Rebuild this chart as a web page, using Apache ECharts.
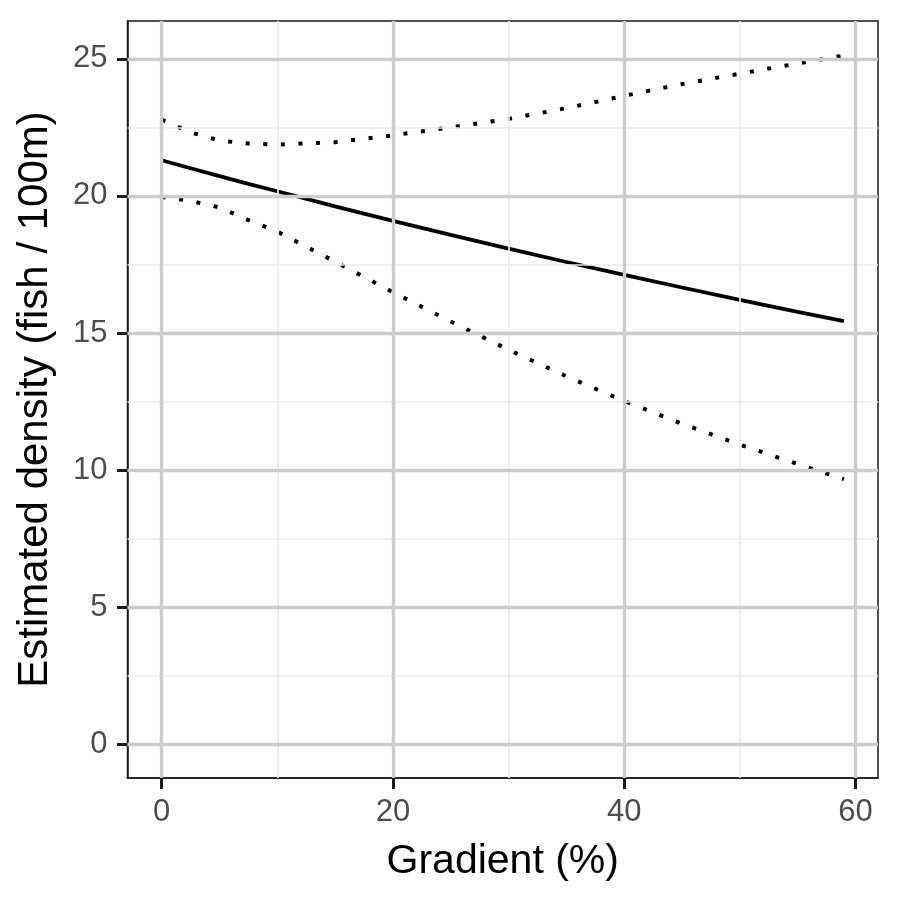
<!DOCTYPE html>
<html>
<head>
<meta charset="utf-8">
<script src="https://cdn.jsdelivr.net/npm/echarts@6/dist/echarts.min.js"></script>
<style>html,body{margin:0;padding:0;background:#fff}#c{width:900px;height:900px}</style>
</head>
<body>
<div id="c"></div>
<script>
// Data
const gradient = [0, 2.5, 5, 7.5, 10, 15, 20, 25, 30, 35, 40, 45, 50, 55, 59];
const estimate = [21.3, 21.01, 20.72, 20.44, 20.17, 19.62, 19.09, 18.58, 18.08, 17.59, 17.12, 16.66, 16.21, 15.77, 15.43];
const upperCI  = [22.78, 22.32, 22.02, 21.91, 21.87, 21.96, 22.21, 22.5, 22.81, 23.2, 23.65, 24.08, 24.46, 24.83, 25.12];
const lowerCI  = [19.96, 19.82, 19.58, 19.12, 18.7, 17.6, 16.49, 15.42, 14.39, 13.42, 12.52, 11.69, 10.93, 10.22, 9.67];

const xTicks = [0, 20, 40, 60];
const xMinor = [10, 30, 50];
const yTicks = [0, 5, 10, 15, 20, 25];
const yMinor = [2.5, 7.5, 12.5, 17.5, 22.5];

const xTitle = 'Gradient (%)';
const yTitle = 'Estimated density (fish / 100m)';

const FONT = '"Liberation Sans", Arial, Helvetica, sans-serif';
const pairs = (ys) => gradient.map((x, i) => [x, ys[i]]);

const minorLines = xMinor.map(v => ({ xAxis: v })).concat(yMinor.map(v => ({ yAxis: v })));
const majorLines = xTicks.map(v => ({ xAxis: v })).concat(yTicks.map(v => ({ yAxis: v })));

const chart = echarts.init(document.getElementById('c'), null, { renderer: 'canvas' });
chart.setOption({
  animation: false,
  backgroundColor: '#ffffff',
  grid: { left: 127.5, right: 22, top: 21, bottom: 122, show: true, borderColor: '#1a1a1a', borderWidth: 1.5, backgroundColor: 'transparent', containLabel: false },
  xAxis: {
    type: 'value', min: -2.95, max: 61.95,
    name: xTitle, nameLocation: 'middle', nameGap: 63,
    nameTextStyle: { fontSize: 41, color: '#000', fontFamily: FONT },
    axisLine: { show: true, onZero: false, lineStyle: { color: '#1a1a1a', width: 1.5 } },
    axisTick: { show: true, inside: false, customValues: xTicks, length: 11, lineStyle: { color: '#1a1a1a', width: 3 } },
    axisLabel: { show: true, customValues: xTicks, fontSize: 31, color: '#4d4d4d', margin: 19, fontFamily: FONT, formatter: v => String(v) },
    splitLine: { show: false }, minorSplitLine: { show: false }
  },
  yAxis: {
    type: 'value', min: -1.23, max: 26.38,
    name: yTitle, nameLocation: 'middle', nameGap: 71, nameRotate: 90,
    nameTextStyle: { fontSize: 42, color: '#000', fontFamily: FONT },
    axisLine: { show: true, onZero: false, lineStyle: { color: '#1a1a1a', width: 1.5 } },
    axisTick: { show: true, inside: false, customValues: yTicks, length: 10.5, lineStyle: { color: '#1a1a1a', width: 3 } },
    axisLabel: { show: true, customValues: yTicks, fontSize: 31, color: '#4d4d4d', margin: 20, fontFamily: FONT, formatter: v => String(v) },
    splitLine: { show: false }, minorSplitLine: { show: false }
  },
  series: [
    {
      type: 'line', data: [], z: 1, silent: true,
      markLine: { silent: true, symbol: ['none', 'none'], label: { show: false }, animation: false,
        lineStyle: { color: '#ebebeb', width: 1.7, type: 'solid' }, emphasis: { disabled: true }, data: minorLines }
    },
    {
      type: 'line', data: [], z: 1, silent: true,
      markLine: { silent: true, symbol: ['none', 'none'], label: { show: false }, animation: false,
        lineStyle: { color: '#cccccc', width: 3.4, type: 'solid' }, emphasis: { disabled: true }, data: majorLines }
    },
    { type: 'line', data: pairs(upperCI), z: 3, symbol: 'none', smooth: false,
      lineStyle: { color: '#000', width: 4, type: [4, 13.6], cap: 'butt' } },
    { type: 'line', data: pairs(lowerCI), z: 3, symbol: 'none', smooth: false,
      lineStyle: { color: '#000', width: 4, type: [4, 13.6], cap: 'butt' } },
    { type: 'line', data: pairs(estimate), z: 3, symbol: 'none', smooth: false,
      lineStyle: { color: '#000', width: 3.8, type: 'solid' } }
  ]
});
</script>
</body>
</html>
